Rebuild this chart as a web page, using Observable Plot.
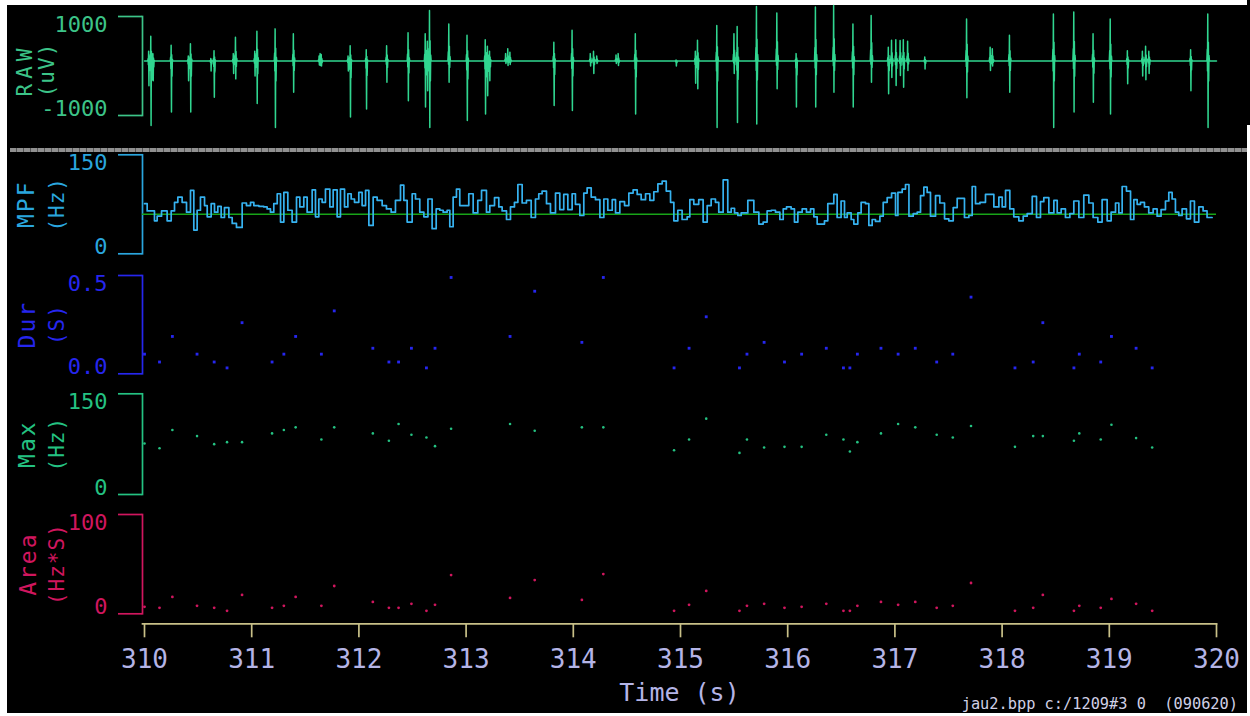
<!DOCTYPE html>
<html><head><meta charset="utf-8">
<script src="https://cdn.jsdelivr.net/npm/d3@7"></script>
<script src="https://cdn.jsdelivr.net/npm/@observablehq/plot@0.6"></script>
<style>
html,body{margin:0;padding:0;background:#fff;}
#wrap{position:relative;width:1250px;height:716px;background:#fff;overflow:hidden;font-family:"DejaVu Sans Mono",monospace;}
#bg{position:absolute;left:7px;top:5px;width:1240px;height:708px;background:#000;}
#bg2{position:absolute;left:1247px;top:0px;width:3px;height:125px;background:#000;}
#sep{position:absolute;left:10px;top:148px;width:1237px;height:4px;background:repeating-linear-gradient(90deg,#909090 0 6px,#555 6px 7px);}
#foot{position:absolute;right:12px;top:697px;font-size:15.3px;line-height:1;color:#d0d0e6;white-space:pre;font-family:"DejaVu Sans Mono",monospace;}
svg{position:absolute;left:0;}
</style>
</head><body>
<div id="wrap"><div id="bg"></div><div id="bg2"></div><div id="sep"></div><div id="foot">jau2.bpp c:/1209#3 0  (090620)</div></div>
<script>
// ---------- DATA ----------
const xDomain = [310, 320];
const xTicks = [310, 311, 312, 313, 314, 315, 316, 317, 318, 319, 320];
const xLabel = "Time (s)";

// RAW EMG: spikes (time, peak, trough) in uV and the resting level
const rawBaseline = 100;
const rawT  = [310.04,310.06,310.08,310.25,310.41,310.43,310.62,310.65,310.83,310.85,311.03,311.05,311.22,311.39,311.63,311.64,311.65,311.90,311.92,312.07,312.26,312.46,312.62,312.64,312.66,312.84,313.01,313.18,313.20,313.22,313.37,313.39,313.41,313.82,313.99,314.16,314.19,314.22,314.40,314.42,314.58,314.96,315.14,315.16,315.34,315.50,315.53,315.71,315.90,316.08,316.26,316.43,316.61,316.78,316.94,316.97,317.01,317.05,317.08,317.12,317.28,317.67,317.89,317.91,318.07,318.48,318.67,318.85,319.01,319.17,319.31,319.34,319.37,319.76,319.92];
const rawHi = [300,600,250,420,200,450,150,310,250,580,300,700,750,650,200,250,230,200,410,330,410,670,650,500,1120,850,620,530,400,300,250,350,280,480,720,250,300,200,220,250,650,120,300,520,820,650,800,1200,1070,250,1190,1220,850,1020,380,520,530,515,530,500,180,950,380,350,620,1050,1090,650,950,310,300,400,300,330,1050];
const rawLo = [-400,-1200,-300,-930,-300,-930,-100,-630,-150,-260,-200,-760,-1240,-530,20,10,0,-100,-1030,-870,-330,-700,-830,-500,-1240,-330,-1100,-970,-600,-300,50,10,30,-800,-900,0,-150,50,50,10,-970,0,-350,-460,-1240,-150,-1140,-1170,-460,-830,-830,-530,-830,-330,-560,-230,-395,-190,-430,-90,-60,-640,-90,0,-530,-1240,-930,-730,-970,-360,-200,-280,-150,-500,-1240];
const rawTicks = [-1000, 1000];
const rawTickLabels = ["-1000", "1000"];

// MPF step series (segment start time, Hz) and reference level
const mpfT = [310.000,310.025,310.093,310.118,310.159,310.211,310.249,310.280,310.311,310.351,310.392,310.429,310.460,310.491,310.522,310.560,310.585,310.622,310.653,310.684,310.715,310.746,310.787,310.818,310.858,310.911,310.951,310.989,311.020,311.067,311.113,311.144,311.175,311.206,311.238,311.269,311.300,311.337,311.377,311.418,311.449,311.486,311.517,311.564,311.595,311.626,311.657,311.688,311.729,311.760,311.797,311.828,311.866,311.897,311.928,311.959,311.999,312.030,312.062,312.093,312.133,312.170,312.217,312.257,312.301,312.341,
312.388,312.419,312.450,312.497,312.528,312.568,312.606,312.644,312.683,312.721,312.755,312.786,312.823,312.848,312.879,312.910,312.941,313.025,313.066,313.109,313.144,313.190,313.221,313.265,313.305,313.336,313.377,313.414,313.451,313.483,313.523,313.563,313.607,313.647,313.678,313.709,313.750,313.787,313.834,313.874,313.911,313.949,313.989,314.020,314.061,314.098,314.129,314.167,314.207,314.248,314.285,314.322,314.363,314.394,314.434,314.478,314.518,314.558,314.596,314.633,314.674,314.714,314.751,314.789,314.829,314.867,314.907,314.938,314.975,315.015,315.062,315.087,315.124,315.170,315.211,315.249,315.286,315.326,315.357,315.398,315.441,315.473,315.504,315.535,315.566,315.628,315.684,315.731,315.771,315.808,315.846,315.886,315.927,315.958,315.989,316.032,316.063,316.095,316.135,316.175,316.213,316.244,316.275,
316.306,316.343,316.374,316.430,316.461,316.498,316.530,316.555,316.592,316.617,316.654,316.685,316.726,316.757,316.788,316.819,316.860,316.891,316.928,316.969,317.006,317.028,317.068,317.099,317.131,317.171,317.208,317.239,317.270,317.301,317.332,317.379,317.419,317.463,317.503,317.544,317.581,317.649,317.690,317.721,317.752,317.793,317.845,317.923,317.970,318.001,318.032,318.072,318.109,318.156,318.197,318.234,318.281,318.321,318.358,318.389,318.436,318.483,318.514,318.551,318.591,318.632,318.669,318.716,318.762,318.809,318.849,318.893,318.933,318.980,319.017,319.058,319.089,319.120,319.160,319.198,319.229,319.260,319.291,319.328,319.368,319.409,319.446,319.483,319.524,319.555,319.586,319.617,319.648,319.679,319.720,319.757,319.794,319.835,319.875,319.912,319.959];
const mpfV = [76,65,50,57,65,50,65,78,86,78,63,96,36,66,86,73,56,76,63,72,55,70,55,46,40,77,73,78,73,72,71,68,63,76,91,48,93,66,48,86,71,86,63,97,56,83,78,98,71,97,56,98,71,91,83,78,93,73,96,43,86,81,73,68,63,81,
104,81,48,91,83,63,56,83,38,68,66,63,66,41,86,98,73,91,62,81,96,63,73,85,71,65,52,71,78,105,77,81,55,83,91,95,76,62,92,67,90,67,91,75,58,92,100,86,82,55,83,66,82,62,79,73,92,97,90,82,91,81,94,106,110,95,78,50,66,52,56,82,75,82,48,73,83,78,63,112,63,69,62,58,62,81,63,45,48,65,66,63,52,68,71,68,48,63,68,63,68,56,45,
45,50,76,90,55,80,55,62,52,45,62,78,76,43,52,49,57,78,85,92,58,93,98,105,57,61,63,88,101,93,57,88,77,53,50,70,84,55,58,102,76,78,90,71,86,71,96,68,56,50,57,61,87,55,79,85,62,81,62,68,55,61,80,55,89,77,55,48,82,50,63,77,62,102,95,52,82,75,78,71,62,68,57,67,80,93,83,63,58,68,53,80,48,71,65,55,55];
const mpfRef = 60;
const mpfTicks = [0, 150];
const mpfTickLabels = ["0", "150"];

// Detected bursts: onset time, duration (s), max frequency (Hz), area (Hz*s)
const evT = [310.00,310.14,310.26,310.49,310.65,310.77,310.91,311.19,311.30,311.41,311.65,311.77,312.13,312.28,312.37,312.49,312.63,312.71,312.86,313.41,313.64,314.08,314.28,314.94,315.08,315.24,315.55,315.62,315.78,315.97,316.13,316.36,316.52,316.58,316.65,316.87,317.03,317.19,317.39,317.54,317.71,318.12,318.29,318.38,318.67,318.72,318.92,319.02,319.25,319.40];
const evDur = [0.10,0.06,0.19,0.10,0.06,0.03,0.26,0.06,0.10,0.19,0.10,0.32,0.13,0.06,0.06,0.13,0.03,0.13,0.49,0.19,0.42,0.16,0.49,0.03,0.13,0.29,0.03,0.10,0.16,0.06,0.10,0.13,0.03,0.03,0.10,0.13,0.10,0.13,0.06,0.10,0.39,0.03,0.06,0.26,0.03,0.10,0.06,0.19,0.13,0.03];
const evMax = [76,69,96,87,75,78,78,91,96,100,82,100,91,80,105,89,85,72,98,105,95,100,100,66,82,113,62,82,70,71,71,89,82,64,78,91,105,100,89,85,102,71,87,87,80,91,82,104,84,70];
const evArea = [7,6,17,8,6,3,19,6,8,17,8,28,12,6,6,10,3,9,39,16,34,14,40,3,9,23,3,8,10,6,7,10,3,3,8,12,9,12,6,8,31,3,6,19,3,8,6,15,10,3];
const durTicks = [0, 0.5], durTickLabels = ["0.0", "0.5"];
const maxTicks = [0, 150], maxTickLabels = ["0", "150"];
const areaTicks = [0, 100], areaTickLabels = ["0", "100"];

// ---------- BUILD ----------
const FONT = "DejaVu Sans Mono";
const W = 1250, LEFT = 142, RIGHT = 1216;
const wrap = document.getElementById("wrap");

// each spike drawn as a short biphasic discharge around its read peak / trough
const raw = [{t: xDomain[0], v: rawBaseline}];
rawT.forEach((t, i) => {
  const b = rawBaseline, up = rawHi[i] - b, dn = rawLo[i] - b;
  raw.push({t: t - 0.010, v: b});
  raw.push({t: t - 0.006, v: b + 0.25 * up});
  raw.push({t: t - 0.004, v: b + 0.15 * dn});
  raw.push({t: t - 0.0015, v: rawHi[i]});
  raw.push({t: t + 0.0015, v: rawLo[i]});
  raw.push({t: t + 0.004, v: b + 0.4 * up});
  raw.push({t: t + 0.007, v: b + 0.3 * dn});
  raw.push({t: t + 0.010, v: b + 0.12 * up});
  raw.push({t: t + 0.014, v: b});
});
raw.push({t: xDomain[1], v: rawBaseline});

const mpf = mpfT.map((t, i) => ({t, v: mpfV[i]}));
const ev = evT.map((t, i) => ({t, dur: evDur[i], max: evMax[i], area: evArea[i]}));

function bracket(ticks, labels, color, t1, t2, o) {
  return [
    Plot.frame({anchor: "left", stroke: color, strokeWidth: 1.7}),
    Plot.axisY({ticks, tickSize: 24, stroke: color, strokeWidth: 1.7, fill: "none", label: null}),
    Plot.text([ticks[1]], {y: d => d, text: () => labels[1], frameAnchor: "left", dx: -35, textAnchor: "end", lineAnchor: "top", fill: color, fontSize: 22}),
    Plot.text([ticks[0]], {y: d => d, text: () => labels[0], frameAnchor: "left", dx: -35, textAnchor: "end", lineAnchor: "bottom", fill: color, fontSize: 22}),
    Plot.text([t1], {text: d => d, frameAnchor: "left", rotate: -90, dx: o.c1 - LEFT, dy: o.dy || 0, textAnchor: "middle", lineAnchor: "middle", fill: color, fontSize: o.fs1}),
    Plot.text([t2], {text: d => d, frameAnchor: "left", rotate: -90, dx: o.c2 - LEFT, dy: o.dy || 0, textAnchor: "middle", lineAnchor: "middle", fill: color, fontSize: o.fs2})
  ];
}

function panel(top, height, yTop, yBot, domain, marks) {
  const svg = Plot.plot({
    width: W, height,
    marginLeft: LEFT, marginRight: W - RIGHT,
    marginTop: yTop - top, marginBottom: top + height - yBot,
    x: {domain: xDomain, insetLeft: 2, axis: null},
    y: {domain, axis: null},
    style: {background: "transparent", overflow: "visible", fontFamily: FONT},
    marks
  });
  svg.style.top = top + "px";
  wrap.appendChild(svg);
  return svg;
}

const cRaw = "#3cc488", cRawLine = "#30d690";
const cMpf = "#2aa6de", cMpfLine = "#36b2f0", cRef = "#18a418";
const cDur = "#2626ee", cMax = "#24c282", cArea = "#d0165e";
const cXAxis = "#c8c088", cXLab = "#b4b4e6";

panel(0, 140, 16, 115, [-1000, 1000], [
  ...bracket(rawTicks, rawTickLabels, cRaw, "RAW", "(uV)", {c1: 24.5, c2: 47, fs1: 21, fs2: 21, dy: 4}),
  Plot.line(raw, {x: "t", y: "v", stroke: cRawLine, strokeWidth: 1.5})
]);
panel(140, 125, 154.3, 253.3, [0, 150], [
  ...bracket(mpfTicks, mpfTickLabels, cMpf, "MPF", "(Hz)", {c1: 26, c2: 57, fs1: 23, fs2: 21}),
  Plot.ruleY([mpfRef], {stroke: cRef, strokeWidth: 1.6}),
  Plot.line(mpf, {x: "t", y: "v", curve: "step-after", stroke: cMpfLine, strokeWidth: 1.7})
]);
panel(265, 120, 275, 373.3, [0, 0.5], [
  ...bracket(durTicks, durTickLabels, cDur, "Dur", "(S)", {c1: 27, c2: 57, fs1: 23, fs2: 21}),
  Plot.dot(ev, {x: "t", y: "dur", symbol: "square", r: 1.6, fill: cDur, stroke: null})
]);
panel(385, 120, 393.3, 494, [0, 150], [
  ...bracket(maxTicks, maxTickLabels, cMax, "Max", "(Hz)", {c1: 27, c2: 57, fs1: 23, fs2: 21}),
  Plot.dot(ev, {x: "t", y: "max", r: 1.3, fill: cMax, stroke: null})
]);
panel(505, 120, 514, 613.3, [0, 100], [
  ...bracket(areaTicks, areaTickLabels, cArea, "Area", "(Hz*S)", {c1: 28, c2: 57, fs1: 23, fs2: 21}),
  Plot.dot(ev, {x: "t", y: "area", r: 1.4, fill: cArea, stroke: null})
]);
// x axis
const s6 = Plot.plot({
  width: W, height: 116,
  marginLeft: LEFT, marginRight: W - RIGHT, marginTop: 10, marginBottom: 116 - 23.3,
  x: {domain: xDomain, insetLeft: 2, axis: null},
  y: {axis: null},
  style: {background: "transparent", overflow: "visible", fontFamily: FONT},
  marks: [
    Plot.frame({anchor: "bottom", stroke: cXAxis, strokeWidth: 1.7}),
    Plot.axisX({ticks: xTicks, tickSize: 14, tickPadding: 12, stroke: cXAxis, strokeWidth: 1.7, fill: cXLab, fontSize: 26, label: null, tickFormat: d => String(d)}),
    Plot.text([xLabel], {text: d => d, frameAnchor: "bottom", dy: 69, lineAnchor: "middle", fill: cXLab, fontSize: 25})
  ]
});
s6.style.top = "600px";
wrap.appendChild(s6);

// letter spacing for rotated titles
d3.selectAll("#wrap svg text").each(function() {
  const t = this.textContent;
  if (t === "RAW") this.setAttribute("letter-spacing", "5");
  else if (["MPF","Dur","Max","Area"].includes(t)) this.setAttribute("letter-spacing", "2");
  else if (["(uV)","(Hz)","(S)","(Hz*S)"].includes(t)) this.setAttribute("letter-spacing", "1");
});
</script>
</body></html>
